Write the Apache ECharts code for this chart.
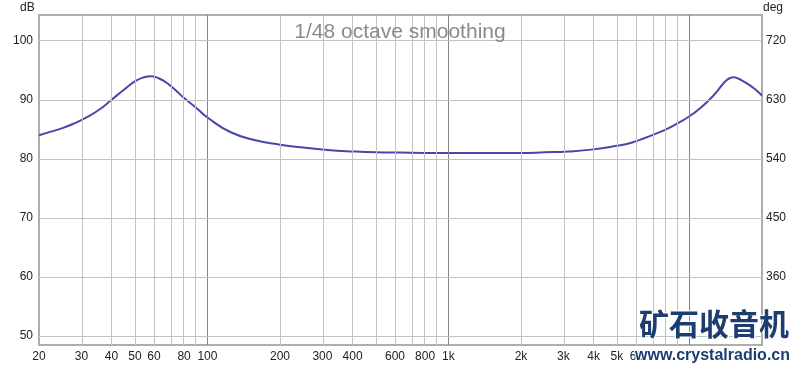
<!DOCTYPE html>
<html>
<head>
<meta charset="utf-8">
<script src="https://cdn.jsdelivr.net/npm/echarts@6/dist/echarts.min.js"></script>
<style>
  html, body { margin: 0; padding: 0; background: #fff; }
  #main { width: 800px; height: 369px; }
</style>
</head>
<body>
<div id="main"></div>
<script>
let freqs = [20, 22.4, 25, 28, 31.5, 35.5, 40, 45, 50, 54, 58, 63, 67, 71, 75, 80, 90, 100, 125, 160, 200, 250,
  315, 400, 500, 630, 800, 1000, 1250, 1600, 2000, 2500, 3150, 4000, 5000, 5600, 6300, 7100, 8000, 9000,
  10000, 11200, 12500, 14000, 14600, 15300, 16000, 16700, 17500, 18500, 19300, 20000];
let levels = [84.0, 84.6, 85.2, 86.0, 87.0, 88.3, 90.0, 91.7, 93.1, 93.75, 94.0, 93.6, 93.0, 92.2, 91.35, 90.3, 88.6, 87.0, 84.5, 83.1, 82.4, 81.9,
  81.5, 81.25, 81.1, 81.05, 81.0, 81.0, 81.0, 81.0, 81.0, 81.1, 81.25, 81.6, 82.2, 82.6, 83.3, 84.1, 85.0, 86.1,
  87.2, 88.75, 90.6, 93.0, 93.6, 93.8, 93.55, 93.15, 92.65, 91.95, 91.3, 90.7];

let xLabelFreqs = [20, 30, 40, 50, 60, 80, 100, 200, 300, 400, 600, 800, 1000, 2000, 3000, 4000, 5000, 6000];
let xLabelText = ['20', '30', '40', '50', '60', '80', '100', '200', '300', '400', '600', '800', '1k', '2k', '3k', '4k', '5k', '6k'];
let minorGridFreqs = [30, 40, 50, 60, 70, 80, 90, 200, 300, 400, 500, 600, 700, 800, 900,
  2000, 3000, 4000, 5000, 6000, 7000, 8000, 9000];
let decadeGridFreqs = [100, 1000, 10000];
let dbTicks = [50, 60, 70, 80, 90, 100];
let degTicks = [360, 450, 540, 630, 720];

let dbMin = 48.48, dbMax = 104.35;
let toDeg = function (v) { return v * 9 - 180; };

let chartDom = document.getElementById('main');
let myChart = echarts.init(chartDom);
let option;

let lineData = freqs.map(function (f, i) { return [Math.log10(f), levels[i]]; });

let gridLines = [];
minorGridFreqs.forEach(function (f) {
  gridLines.push({ xAxis: Math.log10(f), lineStyle: { color: '#c2c2c2', width: 1, type: 'solid' } });
});
decadeGridFreqs.forEach(function (f) {
  gridLines.push({ xAxis: Math.log10(f), lineStyle: { color: '#858585', width: 1, type: 'solid' } });
});
dbTicks.forEach(function (v) {
  gridLines.push({ yAxis: v, lineStyle: { color: '#c2c2c2', width: 1, type: 'solid' } });
});

let font = 'Arial, "Liberation Sans", sans-serif';

option = {
  animation: false,
  backgroundColor: '#fff',
  title: {
    text: '1/48 octave smoothing',
    left: 'center',
    top: 22,
    padding: 0,
    textStyle: { color: '#8a8a8a', fontSize: 21, fontWeight: 'normal', fontFamily: font }
  },
  grid: {
    left: 39,
    right: 38,
    top: 15,
    bottom: 24,
    show: true,
    borderColor: '#aeaeae',
    borderWidth: 2,
    backgroundColor: '#fff'
  },
  xAxis: {
    type: 'value',
    min: Math.log10(20),
    max: Math.log10(20000),
    axisLine: { show: false },
    axisTick: { show: false },
    splitLine: { show: false },
    axisLabel: {
      customValues: xLabelFreqs.map(function (f) { return Math.log10(f); }),
      margin: 6,
      color: '#222',
      fontSize: 12,
      fontFamily: font,
      formatter: function (v) {
        let best = 0;
        for (let i = 0; i < xLabelFreqs.length; i++) {
          if (Math.abs(Math.log10(xLabelFreqs[i]) - v) < Math.abs(Math.log10(xLabelFreqs[best]) - v)) best = i;
        }
        return xLabelText[best];
      }
    }
  },
  yAxis: [
    {
      type: 'value',
      min: dbMin,
      max: dbMax,
      axisLine: { show: false },
      axisTick: { show: false },
      splitLine: { show: false },
      axisLabel: {
        customValues: dbTicks,
        margin: 6,
        color: '#222',
        fontSize: 12,
        fontFamily: font
      }
    },
    {
      type: 'value',
      position: 'right',
      min: toDeg(dbMin),
      max: toDeg(dbMax),
      axisLine: { show: false },
      axisTick: { show: false },
      splitLine: { show: false },
      axisLabel: {
        customValues: degTicks,
        margin: 4,
        color: '#222',
        fontSize: 12,
        fontFamily: font
      }
    }
  ],
  graphic: [
    { type: 'text', left: 20, top: 2, style: { text: 'dB', fill: '#222', font: '12px ' + font } },
    { type: 'text', left: 763, top: 2, style: { text: 'deg', fill: '#222', font: '12px ' + font } },
    {
      type: 'text', right: 10, top: 308, z: 100,
      style: {
        text: '矿石收音机', fill: '#1c3d70',
        font: 'bold 30px "Noto Sans CJK SC", sans-serif',
        stroke: '#fff', lineWidth: 2
      }
    },
    {
      type: 'text', right: 9, top: 347, z: 100,
      style: {
        text: 'www.crystalradio.cn', fill: '#1c3d70',
        font: 'bold 16px ' + font,
        stroke: '#fff', lineWidth: 2
      }
    }
  ],
  series: [
    {
      name: 'grid',
      type: 'line',
      data: [],
      z: 1,
      silent: true,
      markLine: {
        silent: true,
        symbol: ['none', 'none'],
        label: { show: false },
        emphasis: { disabled: true },
        animation: false,
        data: gridLines
      }
    },
    {
      name: 'response',
      type: 'line',
      z: 3,
      data: lineData,
      smooth: true,
      showSymbol: false,
      lineStyle: { color: '#4848a8', width: 2 }
    }
  ]
};

myChart.setOption(option);
</script>
</body>
</html>
